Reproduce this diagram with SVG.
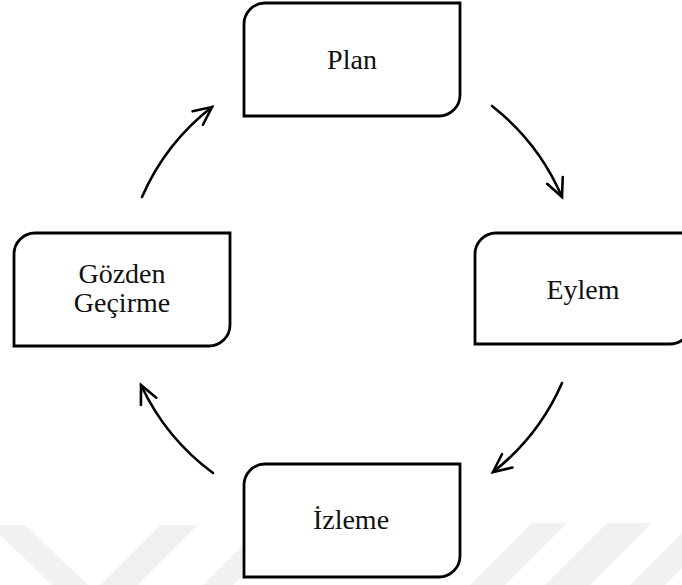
<svg xmlns="http://www.w3.org/2000/svg" width="682" height="585" viewBox="0 0 682 585">
  <defs>
    <style>
      .box { fill: #ffffff; stroke: #000000; stroke-width: 2.8; }
      .label { font-family: "Liberation Serif", "Times New Roman", serif; font-size: 28px; fill: #111111; text-anchor: middle; }
      .arc { fill: none; stroke: #000000; stroke-width: 2.6; stroke-linecap: round; }
      .wm { fill: #f1f1f1; }
    </style>
    <marker id="head" markerUnits="userSpaceOnUse" markerWidth="40" markerHeight="40" viewBox="-20 -20 40 40" refX="0" refY="0" orient="auto">
      <polyline points="-18,-8.5 0,0 -18,8.5" fill="none" stroke="#000000" stroke-width="2.6" stroke-linecap="round" stroke-linejoin="miter"/>
    </marker>
  </defs>

  <rect width="682" height="585" fill="#ffffff"/>

  <!-- faint diagonal background bands along the bottom edge -->
  <g id="background-bands">
    <polygon class="wm" points="-10,525 25,525 88,585 52,585"/>
    <polygon class="wm" points="160,525 198,525 138,585 100,585"/>
    <polygon class="wm" points="248,540 278,540 233,585 203,585"/>
    <polygon class="wm" points="532,523 567,523 505,585 470,585"/>
    <polygon class="wm" points="607,523 652,523 590,585 545,585"/>
    <polygon class="wm" points="692,523 727,523 665,585 630,585"/>
  </g>

  <!-- curved connectors around the cycle -->
  <g id="connectors">
    <path class="arc" d="M 492 106 A 230 230 0 0 1 562 197" marker-end="url(#head)"/>
    <path class="arc" d="M 562 383 A 230 230 0 0 1 493 472" marker-end="url(#head)"/>
    <path class="arc" d="M 213 473 A 230 230 0 0 1 141 385" marker-end="url(#head)"/>
    <path class="arc" d="M 142 197 A 230 230 0 0 1 212 107" marker-end="url(#head)"/>
  </g>

  <g id="node-plan">
    <path class="box" d="M 244 24 A 21 21 0 0 1 265 3 H 460 V 95 A 21 21 0 0 1 439 116 H 244 Z"/>
    <text class="label" x="352" y="69">Plan</text>
  </g>

  <g id="node-eylem">
    <path class="box" d="M 475 254 A 21 21 0 0 1 496 233 H 691 V 323 A 21 21 0 0 1 670 344 H 475 Z"/>
    <text class="label" x="583" y="299">Eylem</text>
  </g>

  <g id="node-izleme">
    <path class="box" d="M 244 485 A 21 21 0 0 1 265 464 H 460 V 556 A 21 21 0 0 1 439 577 H 244 Z"/>
    <text class="label" x="351" y="529">İzleme</text>
  </g>

  <g id="node-gozden-gecirme">
    <path class="box" d="M 14 254 A 21 21 0 0 1 35 233 H 230 V 325 A 21 21 0 0 1 209 346 H 14 Z"/>
    <text class="label" x="122" y="283">Gözden</text>
    <text class="label" x="122" y="312">Geçirme</text>
  </g>
</svg>
